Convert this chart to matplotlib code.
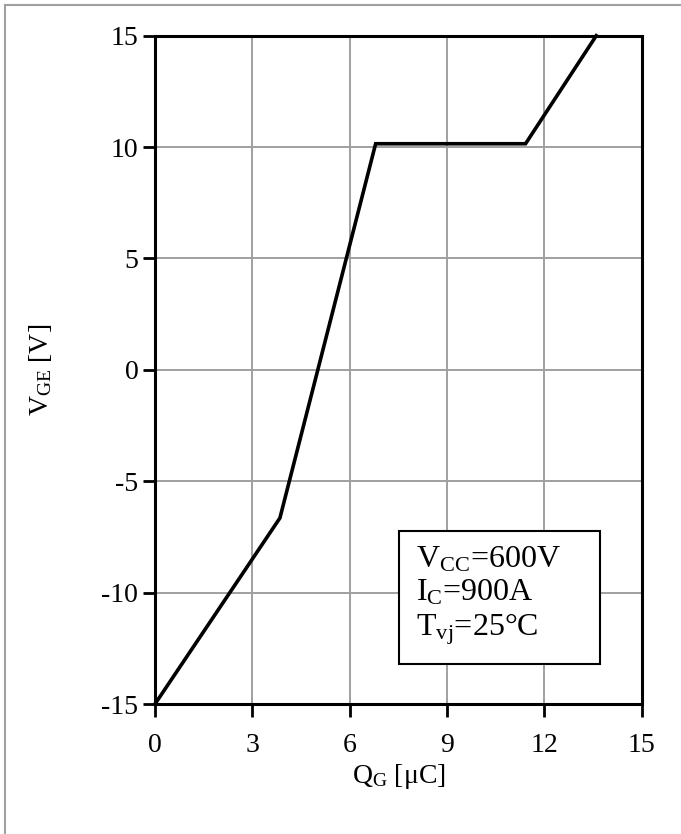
import matplotlib
matplotlib.use("Agg")
import matplotlib.pyplot as plt
from matplotlib.lines import Line2D
from matplotlib.patches import Rectangle

plt.rcParams['font.family'] = ['Liberation Serif', 'DejaVu Serif']
plt.rcParams['mathtext.fontset'] = 'custom'
plt.rcParams['mathtext.rm'] = 'Liberation Serif'
plt.rcParams['mathtext.it'] = 'Liberation Serif:italic'

qg = [0.0, 3.85, 6.8, 11.42, 13.6]
vge = [-15.0, -6.65, 10.15, 10.15, 15.0]
xticks = [0, 3, 6, 9, 12, 15]
yticks = [-15, -10, -5, 0, 5, 10, 15]

FS = 20

fig = plt.figure(figsize=(6.81, 8.34), dpi=100)
ax = fig.add_axes([155/681, 1-704/834, (641.7-155)/681, (704-35.7)/834])

ax.plot(qg, vge, color='black', lw=2.6, solid_joinstyle='miter', zorder=3, clip_on=False)
ax.set_xlim(0, 15)
ax.set_ylim(-15, 15)
ax.set_xticks(xticks)
ax.set_yticks(yticks)
ax.set_xticklabels([str(t) for t in xticks])
ax.set_yticklabels([str(t) for t in yticks])
ax.grid(True, color='#a0a0a0', lw=1.4)
ax.set_axisbelow(True)
for s in ax.spines.values():
    s.set_linewidth(2.2)
    s.set_color('black')
ax.tick_params(direction='out', length=9, width=2, labelsize=FS, colors='black')
ax.tick_params(axis='x', pad=12)
ax.tick_params(axis='y', pad=3)

ax.set_xlabel(r'$\mathrm{Q_G}$ [μC]', fontsize=FS, labelpad=3)
ax.set_ylabel(r'$\mathrm{V_{GE}}$ [V]', fontsize=FS, labelpad=34)

bx0, bx1 = (399-155)/486.7, (600-155)/486.7
by0, by1 = (704-664)/668.3, (704-531)/668.3
ax.add_patch(Rectangle((bx0, by0), bx1-bx0, by1-by0, transform=ax.transAxes,
                       facecolor='white', edgecolor='black', lw=1.5, zorder=5))
ax.text((416-155)/486.7, (704-596)/668.3,
        r'$\mathrm{V_{CC}}$=600V' + '\n' + r'$\mathrm{I_C}$=900A' + '\n' + r'$\mathrm{T_{vj}}$=25°C',
        transform=ax.transAxes, fontsize=23, va='center', ha='left', linespacing=1.18, zorder=6)

fig.add_artist(Line2D([5/681, 5/681], [0, 1-5/834], transform=fig.transFigure, color='#a0a0a0', lw=1.5))
fig.add_artist(Line2D([5/681, 1], [1-5/834, 1-5/834], transform=fig.transFigure, color='#a0a0a0', lw=1.5))

fig.savefig('out.png', dpi=100)
